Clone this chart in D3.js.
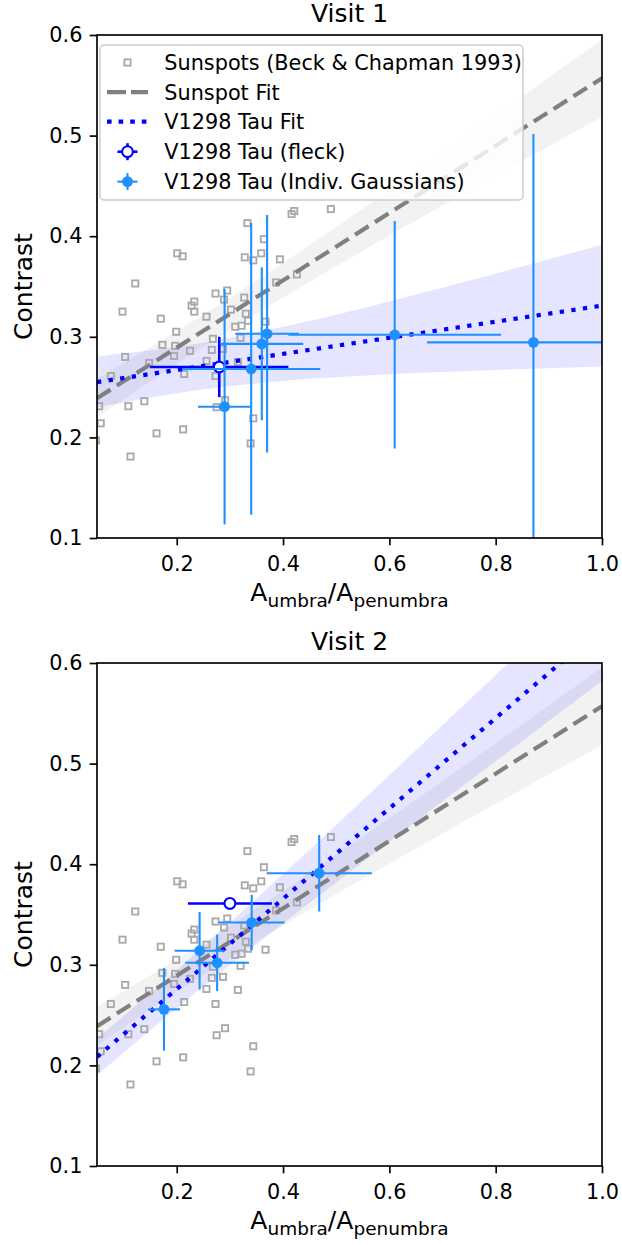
<!DOCTYPE html>
<html><head><meta charset="utf-8">
<script src="https://cdn.jsdelivr.net/npm/d3@7"></script>
<style>body{margin:0;background:#fff}svg{display:block;font-family:"DejaVu Sans",sans-serif}</style>
</head><body><svg id="c" width="622" height="1245"></svg>
<script>
// ---------- data ----------
const sunX=[0.421,0.416,0.490,0.333,0.364,0.201,0.211,0.328,0.344,0.359,0.394,0.426,0.387,0.122,0.273,0.295,0.289,0.327,0.233,0.228,0.233,0.098,0.170,0.256,0.302,0.330,0.334,0.310,0.322,0.367,0.199,0.268,0.287,0.266,0.320,0.173,0.197,0.195,0.225,0.103,0.148,0.315,0.256,0.076,0.214,0.273,0.139,0.109,0.054,0.291,0.275,0.344,0.057,0.162,0.212,0.339,0.113,0.048];
const sunY=[0.425,0.422,0.427,0.413,0.397,0.383,0.380,0.379,0.376,0.383,0.377,0.362,0.354,0.353,0.343,0.346,0.337,0.339,0.335,0.331,0.325,0.325,0.318,0.320,0.327,0.323,0.316,0.310,0.311,0.315,0.305,0.298,0.288,0.287,0.299,0.292,0.291,0.281,0.286,0.280,0.274,0.275,0.276,0.261,0.263,0.261,0.236,0.231,0.231,0.237,0.230,0.219,0.214,0.204,0.208,0.194,0.181,0.197];

const fitX=[0.05,1.0];
const sunFitY=[0.239,0.557];
const v1FitY=[0.255,0.331];
const v2FitY=[0.2085,0.635];

const bandX=[0.05,0.2,0.4,0.6,0.8,1.0];
const sunBandLo=[0.2198,0.2729,0.3390,0.4006,0.4601,0.5185];
const sunBandHi=[0.2582,0.3055,0.3734,0.4456,0.5201,0.5955];
const v1BandLo=[0.2297,0.2440,0.2561,0.2628,0.2671,0.2705];
const v1BandHi=[0.2803,0.2900,0.3099,0.3352,0.3629,0.3915];
const v2BandLo=[0.1902,0.2569,0.3410,0.4223,0.5024,0.5820];
const v2BandHi=[0.2268,0.2947,0.3902,0.4885,0.5880,0.6880];

const v1GaussX=[0.290,0.340,0.360,0.370,0.610,0.871];
const v1GaussY=[0.2305,0.268,0.293,0.303,0.302,0.2945];
const v1GaussXErr=[0.05,0.13,0.078,0.06,0.2,0.2];
const v1GaussYErr=[0.117,0.145,0.076,0.118,0.113,0.207];
const v1FleckX=[0.280], v1FleckY=[0.270], v1FleckXErr=[0.13], v1FleckYErr=[0.03];

const v2GaussX=[0.176,0.243,0.276,0.341,0.468];
const v2GaussY=[0.2557,0.314,0.302,0.342,0.391];
const v2GaussXErr=[0.03,0.047,0.06,0.062,0.099];
const v2GaussYErr=[0.041,0.0385,0.028,0.0275,0.038];
const v2FleckX=[0.300], v2FleckY=[0.361], v2FleckXErr=[0.079], v2FleckYErr=[0.004];

const xTicks=[0.2,0.4,0.6,0.8,1.0];
const yTicks=[0.1,0.2,0.3,0.4,0.5,0.6];
const titles=["Visit 1","Visit 2"];
const legendLabels=["Sunspots (Beck & Chapman 1993)","Sunspot Fit","V1298 Tau Fit","V1298 Tau (fleck)","V1298 Tau (Indiv. Gaussians)"];

// ---------- drawing ----------
const svg=d3.select("#c");
const L=97,R=602,PH=503;
const tops=[35,663];
const GRAY="#808080", BLUE="#0000ff", LBLUE="#1e90ff", SQ="#a8a8a8";
const TICKFS=20.8, LABFS=25, SUBFS=18.5;

const panels=[
 {fitV:v1FitY,bLo:v1BandLo,bHi:v1BandHi,gx:v1GaussX,gy:v1GaussY,gxe:v1GaussXErr,gye:v1GaussYErr,fx:v1FleckX,fy:v1FleckY,fxe:v1FleckXErr,fye:v1FleckYErr},
 {fitV:v2FitY,bLo:v2BandLo,bHi:v2BandHi,gx:v2GaussX,gy:v2GaussY,gxe:v2GaussXErr,gye:v2GaussYErr,fx:v2FleckX,fy:v2FleckY,fxe:v2FleckXErr,fye:v2FleckYErr}
];

const defs=svg.append("defs");

function errorbars(g,x,y,xs,ys,xe,ye,color,lw){
  xs.forEach((v,k)=>{
    g.append("line").attr("x1",x(v-xe[k])).attr("x2",x(v+xe[k])).attr("y1",y(ys[k])).attr("y2",y(ys[k]))
      .attr("stroke",color).attr("stroke-width",lw);
    g.append("line").attr("x1",x(v)).attr("x2",x(v)).attr("y1",y(ys[k]-ye[k])).attr("y2",y(ys[k]+ye[k]))
      .attr("stroke",color).attr("stroke-width",lw);
  });
}

panels.forEach((p,i)=>{
  const top=tops[i];
  const x=d3.scaleLinear().domain([0.05,1.0]).range([L,R]);
  const y=d3.scaleLinear().domain([0.1,0.6]).range([top+PH,top]);
  defs.append("clipPath").attr("id","clip"+i).append("rect").attr("x",L).attr("y",top).attr("width",R-L).attr("height",PH);
  const g=svg.append("g");
  const plot=g.append("g").attr("clip-path",`url(#clip${i})`);

  const area=d3.area().x(d=>x(d.x)).y0(d=>y(d.lo)).y1(d=>y(d.hi)).curve(d3.curveMonotoneX);
  plot.append("path").datum(bandX.map((v,k)=>({x:v,lo:sunBandLo[k],hi:sunBandHi[k]})))
    .attr("d",area).attr("fill",GRAY).attr("fill-opacity",0.1);
  plot.append("path").datum(bandX.map((v,k)=>({x:v,lo:p.bLo[k],hi:p.bHi[k]})))
    .attr("d",area).attr("fill",BLUE).attr("fill-opacity",0.1);

  // sunspots
  const s=6.2;
  plot.selectAll("rect.sun").data(sunX.map((v,k)=>[v,sunY[k]])).enter().append("rect")
    .attr("x",d=>x(d[0])-s/2).attr("y",d=>y(d[1])-s/2).attr("width",s).attr("height",s)
    .attr("fill","none").attr("stroke",SQ).attr("stroke-width",1.8);

  const line=d3.line().x(d=>x(d[0])).y(d=>y(d[1]));
  plot.append("path").datum(fitX.map((v,k)=>[v,sunFitY[k]])).attr("d",line)
    .attr("stroke",GRAY).attr("stroke-width",4.2).attr("stroke-dasharray","16,7.5").attr("fill","none");
  plot.append("path").datum(fitX.map((v,k)=>[v,p.fitV[k]])).attr("d",line)
    .attr("stroke",BLUE).attr("stroke-width",4.2).attr("stroke-dasharray","4.3,7.4").attr("fill","none");

  // fleck
  errorbars(plot,x,y,p.fx,p.fy,p.fxe,p.fye,BLUE,2.6);
  p.fx.forEach((v,k)=>plot.append("circle").attr("cx",x(v)).attr("cy",y(p.fy[k])).attr("r",5.4)
    .attr("fill","#fff").attr("stroke",BLUE).attr("stroke-width",2.1));
  // gaussians
  errorbars(plot,x,y,p.gx,p.gy,p.gxe,p.gye,LBLUE,2.1);
  p.gx.forEach((v,k)=>plot.append("circle").attr("cx",x(v)).attr("cy",y(p.gy[k])).attr("r",5.4).attr("fill",LBLUE));

  // axes
  const ax=g.append("g").attr("transform",`translate(0,${top+PH})`)
    .call(d3.axisBottom(x).tickValues(xTicks).tickFormat(d3.format(".1f")).tickSize(7.3).tickPadding(10.9).tickSizeOuter(0));
  const ay=g.append("g").attr("transform",`translate(${L},0)`)
    .call(d3.axisLeft(y).tickValues(yTicks).tickFormat(d3.format(".1f")).tickSize(7.3).tickPadding(7.3).tickSizeOuter(0));
  [ax,ay].forEach(a=>{
    a.select(".domain").remove();
    a.selectAll("line").attr("stroke","#000").attr("stroke-width",1.67);
    a.selectAll("text").attr("font-size",TICKFS).attr("font-family","DejaVu Sans").attr("fill","#000");
  });
  g.append("rect").attr("x",L).attr("y",top).attr("width",R-L).attr("height",PH)
    .attr("fill","none").attr("stroke","#000").attr("stroke-width",1.67);

  g.append("text").attr("x",(L+R)/2).attr("y",top-13).attr("text-anchor","middle")
    .attr("font-size",LABFS).text(titles[i]);
  g.append("text").attr("transform",`translate(31.5,${top+PH/2}) rotate(-90)`).attr("text-anchor","middle")
    .attr("font-size",LABFS).text("Contrast");
  const xl=g.append("text").attr("x",(L+R)/2).attr("y",top+PH+63).attr("text-anchor","middle").attr("font-size",LABFS);
  xl.append("tspan").text("A");
  xl.append("tspan").attr("font-size",SUBFS).attr("dy",5.5).text("umbra");
  xl.append("tspan").attr("dy",-5.5).text("/A");
  xl.append("tspan").attr("font-size",SUBFS).attr("dy",5.5).text("penumbra");
});

// ---------- legend (top panel) ----------
const lg=svg.append("g");
lg.append("rect").attr("x",100).attr("y",45).attr("width",423).attr("height",155).attr("rx",4)
  .attr("fill","#fff").attr("fill-opacity",0.8).attr("stroke","#cccccc").attr("stroke-width",1.5);
const rowY=[62.5,92.2,121.6,151.7,181.6];
const hx0=107,hx1=148,hc=127.5,tx=164.3;
lg.append("rect").attr("x",hc-3.1).attr("y",rowY[0]-3.1).attr("width",6.2).attr("height",6.2)
  .attr("fill","none").attr("stroke",SQ).attr("stroke-width",1.8);
lg.append("line").attr("x1",hx0).attr("x2",hx1).attr("y1",rowY[1]).attr("y2",rowY[1])
  .attr("stroke",GRAY).attr("stroke-width",4.2).attr("stroke-dasharray","19,5");
lg.append("line").attr("x1",hx0).attr("x2",hx1).attr("y1",rowY[2]).attr("y2",rowY[2])
  .attr("stroke",BLUE).attr("stroke-width",4.2).attr("stroke-dasharray","4.6,7");
[[3,BLUE,2.6],[4,LBLUE,2.1]].forEach(([r,c,w])=>{
  lg.append("line").attr("x1",hc-10).attr("x2",hc+10).attr("y1",rowY[r]).attr("y2",rowY[r]).attr("stroke",c).attr("stroke-width",w);
  lg.append("line").attr("x1",hc).attr("x2",hc).attr("y1",rowY[r]-8.5).attr("y2",rowY[r]+8.5).attr("stroke",c).attr("stroke-width",w);
});
lg.append("circle").attr("cx",hc).attr("cy",rowY[3]).attr("r",5.4).attr("fill","#fff").attr("stroke",BLUE).attr("stroke-width",2.1);
lg.append("circle").attr("cx",hc).attr("cy",rowY[4]).attr("r",5.4).attr("fill",LBLUE);
legendLabels.forEach((t,k)=>lg.append("text").attr("x",tx).attr("y",rowY[k]).attr("dy","0.36em")
  .attr("font-size",TICKFS).text(t));
</script></body></html>
